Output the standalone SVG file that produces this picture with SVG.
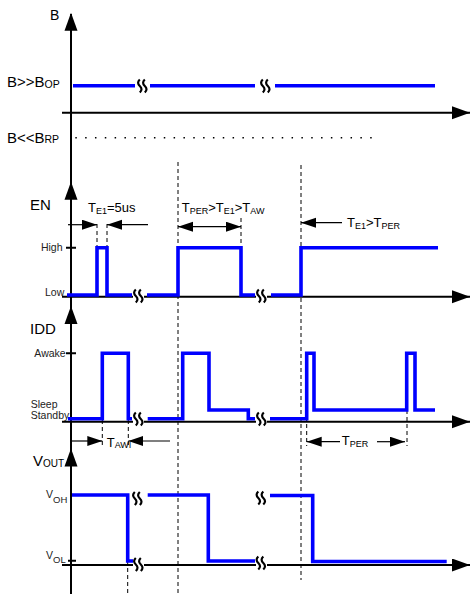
<svg xmlns="http://www.w3.org/2000/svg" width="470" height="594" viewBox="0 0 470 594">
<style>
text{font-family:"Liberation Sans",Arial,sans-serif;fill:#000}
.ax{stroke:#000;stroke-width:2;fill:none}
.sig{stroke:#0000ff;stroke-width:3.6;fill:none;stroke-linejoin:miter}
.dash{stroke:#000;stroke-width:1;stroke-dasharray:4 3;fill:none}
.dim{stroke:#000;stroke-width:1.2;fill:none;marker-end:url(#ah)}
.dim2{stroke:#000;stroke-width:1.2;fill:none;marker-end:url(#ah);marker-start:url(#ah)}
.axh{marker-end:url(#axa)}
.brk{stroke:#000;stroke-width:2.2;fill:none}
.big{font-size:15px}
.lab{font-size:13px}
.lvl{font-size:10.5px;fill:#222}
.tick{stroke:#000;stroke-width:2}
</style>
<defs>
<marker id="ah" markerUnits="userSpaceOnUse" markerWidth="16" markerHeight="11" refX="15" refY="5" orient="auto-start-reverse"><path d="M0,0 L15,5 L0,10 z" fill="#000"/></marker>
<marker id="axa" markerUnits="userSpaceOnUse" markerWidth="19" markerHeight="14" refX="18" refY="6.5" orient="auto"><path d="M0,0 L18,6.5 L0,13 z" fill="#000"/></marker>
<path id="vup" d="M0,0 L-6.5,18 L6.5,18 z" fill="#000"/>
<g id="bk"><path d="M-2.2,-6.5 q-3.4,3.2 0,6.5 q3.4,3.2 0,6.5"/><path d="M2.8,-6.5 q-3.4,3.2 0,6.5 q3.4,3.2 0,6.5"/></g>
</defs>

<g id="axes">
<line class="ax" x1="71" y1="14" x2="71" y2="594"/>
<use href="#vup" x="71" y="12.7"/>
<use href="#vup" x="71" y="181.7"/>
<use href="#vup" x="71" y="306"/>
<use href="#vup" x="71" y="448.5"/>
<line class="ax axh" x1="62" y1="112.7" x2="470" y2="112.7"/>
<path class="ax" d="M62,296.7 H133 M144,296.7 H256"/>
<line class="ax axh" x1="267" y1="296.7" x2="470" y2="296.7"/>
<path class="ax" d="M62,421.7 H133 M144,421.7 H256"/>
<line class="ax axh" x1="267" y1="421.7" x2="470" y2="421.7"/>
<path class="ax" d="M62,565 H133 M144,565 H256"/>
<line class="ax axh" x1="267" y1="565" x2="470" y2="565"/>
<path class="tick" d="M66,247.7 H76 M66,353.3 H76 M68,560.7 H76"/>
</g>

<g id="guides">
<line x1="75.3" y1="137.7" x2="373" y2="137.7" stroke="#000" stroke-width="1.5" stroke-dasharray="1.5 8.33"/>
<path class="dash" d="M97,224 V247 M107,224 V247 M178,162 V594 M241,218 V247 M301,165 V580 M102.3,420 V448 M128.3,420 V448 M306.7,410 V446 M407,410 V446 M127.7,561 V594"/>
</g>

<g id="signals">
<path class="sig" d="M73,85.7 H135 M150,85.7 H255 M275,85.7 H435"/>
<path class="sig" d="M67,295 H97 V247.7 H107 V295 H132 M147,295 H178 V247.7 H241 V295 H255 M271,295 H301 V247.7 H438"/>
<path class="sig" d="M68,418.7 H102.3 V353.3 H128.3 V418.7 H132 M147.7,418.7 H182.7 V353.3 H209 V410 H248.3 V418.7 H255 M270,418.7 H306.7 V353.3 H314 V410 H406.7 V353.3 H415 V410 H435"/>
<path class="sig" d="M72,495 H127.7 V561 H133 M147.7,495 H208.3 V561 H255 M270,495.5 H312.7 V561.5 H446.7"/>
</g>

<g id="breaks" class="brk">
<use href="#bk" x="142" y="86"/>
<use href="#bk" x="265" y="86"/>
<use href="#bk" x="138" y="296"/>
<use href="#bk" x="261" y="296"/>
<use href="#bk" x="138" y="419"/>
<use href="#bk" x="261" y="419"/>
<use href="#bk" x="137" y="498.5"/>
<use href="#bk" x="138" y="564.5"/>
<use href="#bk" x="260.5" y="498"/>
<use href="#bk" x="260.5" y="563"/>
</g>

<g id="dimensions">
<line class="dim" x1="68" y1="224.7" x2="97" y2="224.7"/>
<line class="dim" x1="148" y1="224.7" x2="107" y2="224.7"/>
<line class="dim2" x1="178" y1="226.7" x2="241" y2="226.7"/>
<line class="dim" x1="342" y1="222.7" x2="301" y2="222.7"/>
<line class="dim" x1="72" y1="441" x2="102.3" y2="441"/>
<line class="dim" x1="170" y1="441" x2="128.3" y2="441"/>
<line class="dim" x1="340" y1="441.7" x2="306.7" y2="441.7"/>
<line class="dim" x1="377" y1="441.7" x2="405" y2="441.7"/>
</g>

<g id="labels">
<text x="50" y="19.5" font-size="14">B</text>
<text x="7" y="87" font-size="15">B&gt;&gt;B<tspan font-size="10.5" dy="0.5">OP</tspan></text>
<text x="7" y="142.7" font-size="15">B&lt;&lt;B<tspan font-size="10.5" dy="0.5">RP</tspan></text>
<text class="big" x="30" y="210">EN</text>
<text class="lab" x="88" y="212">T<tspan font-size="9" dy="1.5">E1</tspan><tspan dy="-1.5">=5us</tspan></text>
<text class="lab" x="181.7" y="212">T<tspan font-size="9" dy="1.5">PER</tspan><tspan dy="-1.5">&gt;T</tspan><tspan font-size="9" dy="1.5">E1</tspan><tspan dy="-1.5">&gt;T</tspan><tspan font-size="9" dy="1.5">AW</tspan></text>
<text class="lab" x="347" y="227">T<tspan font-size="9" dy="1.5">E1</tspan><tspan dy="-1.5">&gt;T</tspan><tspan font-size="9" dy="1.5">PER</tspan></text>
<text class="lvl" x="62.5" y="251" text-anchor="end">High</text>
<text class="lvl" x="45" y="295.7">Low</text>
<text class="big" x="30" y="334">IDD</text>
<text class="lvl" x="65.7" y="356.5" text-anchor="end">Awake</text>
<text class="lvl" x="30.7" y="407.5">Sleep</text>
<text class="lvl" x="30.7" y="419.3">Standby</text>
<text class="lab" x="106.7" y="446.7">T<tspan font-size="9" dy="1.5">AWI</tspan></text>
<text class="lab" x="341.7" y="445">T<tspan font-size="9" dy="1.5">PER</tspan></text>
<text class="big" x="33" y="466">V<tspan font-size="10" dy="1">OUT</tspan></text>
<text class="lvl" x="46" y="498.3">V<tspan font-size="9.5" dy="4.2">OH</tspan></text>
<text class="lvl" x="46" y="559">V<tspan font-size="9.5" dy="4.3">OL</tspan></text>
</g>
</svg>
